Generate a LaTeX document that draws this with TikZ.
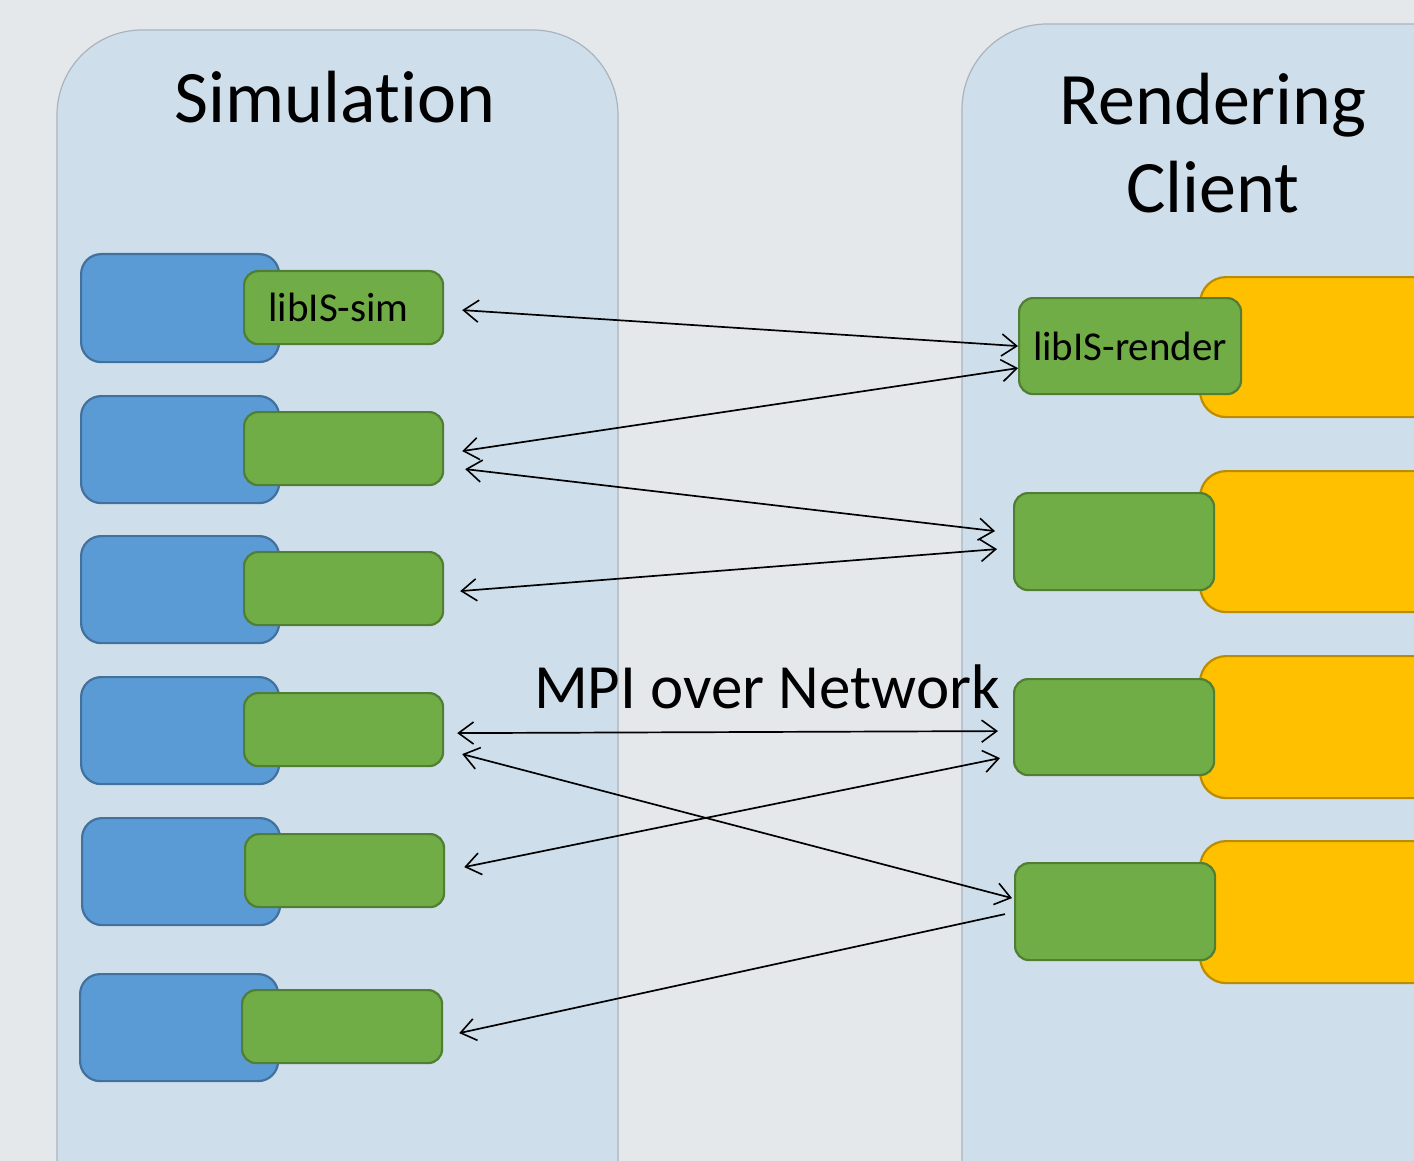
\documentclass[tikz,border=0pt]{standalone}
\usepackage{fontspec}
\setmainfont{Carlito}[Ligatures=NoCommon]
\usetikzlibrary{arrows.meta,calc}
\definecolor{bgc}{HTML}{E5E8EB}
\definecolor{panelc}{HTML}{CFDEEB}
\definecolor{panelb}{HTML}{A9B3BD}
\definecolor{bluef}{HTML}{5B9BD5}
\definecolor{blueb}{HTML}{41719C}
\definecolor{greenf}{HTML}{70AD47}
\definecolor{greenb}{HTML}{507E32}
\definecolor{orangef}{HTML}{FFC000}
\definecolor{orangeb}{HTML}{BC8C00}
\tikzset{
  panel/.style={fill=panelc, draw=panelb, line width=1.2pt, rounded corners=85pt},
  simbox/.style={fill=bluef, draw=blueb, line width=2.2pt, rounded corners=20pt, anchor=north west, inner sep=0pt},
  libbox/.style={fill=greenf, draw=greenb, line width=2.2pt, rounded corners=14pt, anchor=north west, inner sep=0pt, font=\fontsize{41}{48}\selectfont},
  rendbox/.style={fill=orangef, draw=orangeb, line width=2.2pt, rounded corners=26pt, anchor=north west, inner sep=0pt},
  link/.style={line width=1.7pt, {Straight Barb[length=15pt,width=22pt,line width=1.6pt]}-{Straight Barb[length=15pt,width=22pt,line width=1.6pt]}},
  linkl/.style={line width=1.7pt, {Straight Barb[length=15pt,width=22pt,line width=1.6pt]}-},
  title/.style={font=\fontsize{74}{88}\selectfont, align=center}
}
\begin{document}
\begin{tikzpicture}[x=1pt,y=-1pt]
\useasboundingbox (0,0) rectangle (1414,1161);
\clip (0,0) rectangle (1414,1161);
\fill[bgc] (0,0) rectangle (1414,1161);
% panels
\draw[panel] (57,1300) -- (57,30) -- (618,30) -- (618,1300);
\draw[panel] (962,1300) -- (962,24) -- (1600,24) -- (1600,1300);
% titles
\node[title] (tsim) at (335,97) {Simulation};
\node[title] (trend) at (1213,143) {Rendering\\Client};
% simulation side
\node[simbox, minimum width=198pt, minimum height=108pt] (b1) at (80,253) {};
\node[libbox, minimum width=199pt, minimum height=73pt] (s1) at (243,270) {\hspace*{-10pt}libIS-sim};
\node[simbox, minimum width=198pt, minimum height=107pt] (b2) at (80,395) {};
\node[libbox, minimum width=199pt, minimum height=73pt] (s2) at (243,411) {};
\node[simbox, minimum width=198pt, minimum height=107pt] (b3) at (80,535) {};
\node[libbox, minimum width=199pt, minimum height=73pt] (s3) at (243,551) {};
\node[simbox, minimum width=198pt, minimum height=107pt] (b4) at (80,676) {};
\node[libbox, minimum width=199pt, minimum height=73pt] (s4) at (243,692) {};
\node[simbox, minimum width=198pt, minimum height=107pt] (b5) at (81,817) {};
\node[libbox, minimum width=199pt, minimum height=73pt] (s5) at (244,833) {};
\node[simbox, minimum width=198pt, minimum height=107pt] (b6) at (79,973) {};
\node[libbox, minimum width=200pt, minimum height=73pt] (s6) at (241,989) {};
% rendering side
\node[rendbox, minimum width=300pt, minimum height=140pt] (o1) at (1199,276) {};
\node[libbox, minimum width=222pt, minimum height=96pt] (r1) at (1018,297) {libIS-render};
\node[rendbox, minimum width=300pt, minimum height=141pt] (o2) at (1199,470) {};
\node[libbox, minimum width=200pt, minimum height=97pt] (r2) at (1013,492) {};
\node[rendbox, minimum width=300pt, minimum height=142pt] (o3) at (1199,655) {};
\node[libbox, minimum width=200pt, minimum height=96pt] (r3) at (1013,678) {};
\node[rendbox, minimum width=300pt, minimum height=142pt] (o4) at (1199,840) {};
\node[libbox, minimum width=200pt, minimum height=97pt] (r4) at (1014,862) {};
% label
\node[font=\fontsize{63}{72}\selectfont, anchor=base] (mpi) at (767,708) {MPI over Network};
% connector end points
\coordinate (a1l) at ($(s1.east)+(18,2.5)$);
\coordinate (a1r) at ($(r1.west)+(0,0)$);
\coordinate (a2l) at ($(s2.east)+(18,2.5)$);
\coordinate (a2r) at ($(r1.west)+(0,22)$);
\coordinate (a3l) at ($(s2.east)+(21,20.5)$);
\coordinate (a3r) at ($(r2.west)+(-18,-10.5)$);
\coordinate (a4l) at ($(s3.east)+(16,2.5)$);
\coordinate (a4r) at ($(r2.west)+(-16,7.5)$);
\coordinate (a5l) at ($(s4.east)+(13,3.5)$);
\coordinate (a5r) at ($(r3.west)+(-15,4)$);
\coordinate (a6l) at ($(s4.east)+(18,24.5)$);
\coordinate (a6r) at ($(r4.west)+(-2,-13.5)$);
\coordinate (a7l) at ($(s5.east)+(19,-3.5)$);
\coordinate (a7r) at ($(r3.west)+(-13,31)$);
\coordinate (a8l) at ($(s6.east)+(16,6.5)$);
\coordinate (a8r) at ($(r4.west)+(-9,2.5)$);
\draw[link] (a1l) -- (a1r);
\draw[link] (a2l) -- (a2r);
\draw[link] (a3l) -- (a3r);
\draw[link] (a4l) -- (a4r);
\draw[link] (a5l) -- (a5r);
\draw[link] (a6l) -- (a6r);
\draw[link] (a7l) -- (a7r);
\draw[linkl] (a8l) -- (a8r);
\end{tikzpicture}
\end{document}
